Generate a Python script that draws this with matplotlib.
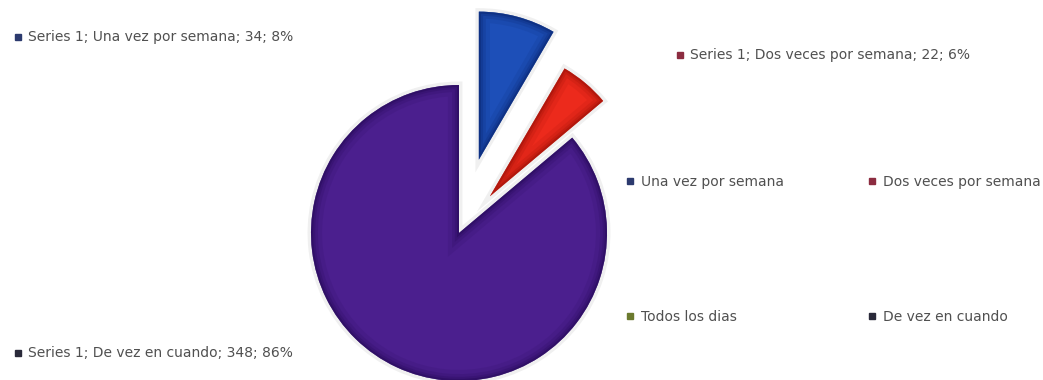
import matplotlib
matplotlib.use('Agg')
import matplotlib.pyplot as plt
import matplotlib.patches as mpatches
from matplotlib.lines import Line2D

# ---- datos ----
categorias = ['Una vez por semana', 'Dos veces por semana', 'Todos los dias', 'De vez en cuando']
valores = [34, 22, 0, 348]
porcentajes = [8, 6, 0, 86]
serie = 'Series 1'

# colores de las porciones (relleno / borde oscuro)
C_FACE = ['#1d4fb8', '#ec2a1c', '#8db03a', '#4b1f8e']
C_RIM = ['#0a2670', '#9a1008', '#4f6a18', '#260b58']
# colores de los cuadritos de la leyenda y etiquetas
C_MARK = ['#2c3a6e', '#8c2c40', '#6b7a2e', '#2a2a3a']
C_TEXT = '#505050'
FS = 10

W, H = 1043, 380
fig = plt.figure(figsize=(W / 100, H / 100), dpi=100)
ax = fig.add_axes([0, 0, 1, 1])

# ---- tarta ----
explode = [76, 48, 0, 0]
wedges, _ = ax.pie(valores, explode=explode, colors=C_FACE, startangle=90,
                   counterclock=False, center=(459, 147), radius=148,
                   wedgeprops={'linewidth': 0})
ax.set_xlim(0, W)
ax.set_ylim(0, H)
ax.set_aspect('auto')
ax.axis('off')

# sombreado suave hacia los bordes de cada porcion
for w, rim, v in zip(wedges, C_RIM, valores):
    if v == 0:
        w.set_visible(False)
        continue
    # halo gris alrededor
    halo = mpatches.Wedge(w.center, w.r, w.theta1, w.theta2, fc='none',
                          ec='#888888', lw=5, alpha=0.12, zorder=0.5)
    ax.add_patch(halo)
    for lw, a in [(16, 0.12), (10, 0.18), (6, 0.25), (3, 0.45)]:
        p = mpatches.Wedge(w.center, w.r, w.theta1, w.theta2, fc='none',
                           ec=rim, lw=lw, alpha=a, zorder=2)
        ax.add_patch(p)
        p.set_clip_path(w)

# ---- etiquetas de datos ----
etiquetas_pos = {0: (28, 343), 1: (690, 325), 3: (28, 27)}
for i, (x, y) in etiquetas_pos.items():
    ax.plot(x - 10, y, marker='s', ms=4, color=C_MARK[i], ls='none')
    ax.text(x, y, f'{serie}; {categorias[i]}; {valores[i]}; {porcentajes[i]}%',
            fontsize=FS, color=C_TEXT, va='center', ha='left',
            family='DejaVu Sans')

# ---- leyenda (2 columnas x 2 filas) ----
orden = [0, 2, 1, 3]
handles = [Line2D([], [], marker='s', ms=5, ls='none', color=C_MARK[i]) for i in orden]
leg = fig.legend(handles, [categorias[i] for i in orden], ncol=2,
                 loc='upper left', bbox_to_anchor=(626 / W, 1 - 175 / H),
                 frameon=False, fontsize=FS, labelcolor=C_TEXT,
                 handlelength=0.6, handletextpad=0.5, borderpad=0,
                 borderaxespad=0, labelspacing=8.7, columnspacing=6.0)

fig.savefig('out.png', dpi=100)
